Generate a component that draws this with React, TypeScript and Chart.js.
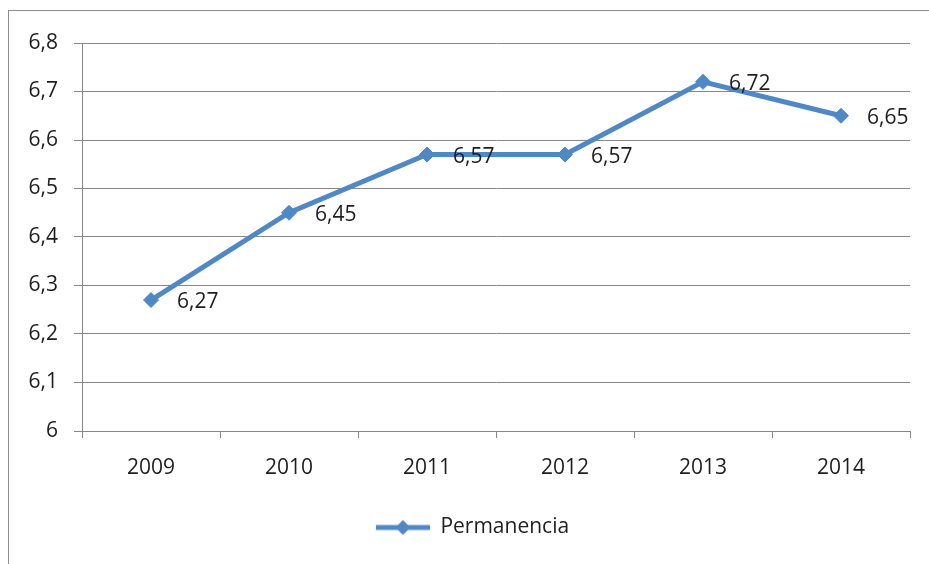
import React, { useEffect, useRef } from "react";
import { Chart, registerables } from "chart.js";

Chart.register(...registerables);

const categories = ["2009", "2010", "2011", "2012", "2013", "2014"];
const permanencia = [6.27, 6.45, 6.57, 6.57, 6.72, 6.65];
const valueLabels = ["6,27", "6,45", "6,57", "6,57", "6,72", "6,65"];
const yTickLabels = ["6", "6,1", "6,2", "6,3", "6,4", "6,5", "6,6", "6,7", "6,8"];
const seriesName = "Permanencia";

const LINE_COLOR = "#5088C6";
const GRID_COLOR = "#878787";
const TEXT_COLOR = "#1e1e1e";
const FONT_FAMILY = "'Open Sans', 'Liberation Sans', sans-serif";
const FONT_SIZE = 21;
const ICON_SHIFT = 26;

function makeLegendIcon(): HTMLCanvasElement {
  const c = document.createElement("canvas");
  c.width = 54 + ICON_SHIFT;
  c.height = 18;
  const g = c.getContext("2d")!;
  g.strokeStyle = LINE_COLOR;
  g.lineWidth = 5;
  g.beginPath();
  g.moveTo(ICON_SHIFT, 9);
  g.lineTo(ICON_SHIFT + 54, 9);
  g.stroke();
  g.fillStyle = LINE_COLOR;
  g.beginPath();
  const cx = ICON_SHIFT + 27;
  g.moveTo(cx, 1.5);
  g.lineTo(cx + 7.5, 9);
  g.lineTo(cx, 16.5);
  g.lineTo(cx - 7.5, 9);
  g.closePath();
  g.fill();
  return c;
}

const dataLabelPlugin = {
  id: "valueLabels",
  afterDatasetsDraw(chart: any) {
    const ctx = chart.ctx;
    const meta = chart.getDatasetMeta(0);
    ctx.save();
    ctx.font = `${FONT_SIZE}px ${FONT_FAMILY}`;
    ctx.fillStyle = TEXT_COLOR;
    ctx.textAlign = "left";
    ctx.textBaseline = "middle";
    meta.data.forEach((pt: any, i: number) => {
      ctx.fillText(valueLabels[i], pt.x + 26, pt.y + 2);
    });
    ctx.restore();
  },
};

export default function App() {
  const canvasRef = useRef<HTMLCanvasElement | null>(null);

  useEffect(() => {
    const canvas = canvasRef.current;
    if (!canvas) return;
    const chart = new Chart(canvas, {
      type: "line",
      data: {
        labels: categories,
        datasets: [
          {
            label: seriesName,
            data: permanencia,
            borderColor: LINE_COLOR,
            backgroundColor: LINE_COLOR,
            borderWidth: 5,
            pointStyle: "rectRot",
            pointRadius: 7.5,
            pointHoverRadius: 7.5,
            pointBackgroundColor: LINE_COLOR,
            pointBorderColor: LINE_COLOR,
            pointBorderWidth: 1,
            tension: 0,
          },
        ],
      },
      options: {
        animation: false,
        responsive: false,
        maintainAspectRatio: false,
        events: [],
        layout: { padding: { top: 32, left: 0, right: 39, bottom: 23 } },
        font: { family: FONT_FAMILY, size: FONT_SIZE },
        scales: {
          x: {
            offset: true,
            grid: {
              offset: true,
              drawOnChartArea: false,
              drawTicks: true,
              tickLength: 7,
              color: GRID_COLOR,
            },
            border: { display: true, color: GRID_COLOR, width: 1 },
            ticks: {
              color: TEXT_COLOR,
              font: { family: FONT_FAMILY, size: FONT_SIZE },
              padding: 17,
              maxRotation: 0,
            },
            afterFit(scale: any) {
              scale.height = 76;
            },
          },
          y: {
            min: 6,
            max: 6.8,
            ticks: {
              stepSize: 0.1,
              color: TEXT_COLOR,
              font: { family: FONT_FAMILY, size: FONT_SIZE },
              padding: 16,
              callback: (_v: any, i: number) => yTickLabels[i],
            },
            grid: {
              color: GRID_COLOR,
              drawTicks: true,
              tickLength: 8,
            },
            border: { display: true, color: GRID_COLOR, width: 1 },
            afterFit(scale: any) {
              scale.width = 73;
            },
          },
        },
        plugins: {
          legend: {
            position: "bottom",
            labels: {
              usePointStyle: true,
              pointStyle: makeLegendIcon() as any,
              pointStyleWidth: 54 + ICON_SHIFT,
              color: TEXT_COLOR,
              font: { family: FONT_FAMILY, size: FONT_SIZE },
              padding: 10,
            },
          },
          tooltip: { enabled: false },
        },
      },
      plugins: [dataLabelPlugin],
    } as any);
    return () => chart.destroy();
  }, []);

  return (
    <div style={{ position: "fixed", inset: 0, overflow: "hidden", background: "#fff" }}>
      <div
        style={{
          position: "absolute",
          left: 8,
          top: 10,
          width: 960,
          height: 600,
          borderTop: "1px solid #8c8c8c",
          borderLeft: "1px solid #8c8c8c",
        }}
      >
        <canvas
          ref={canvasRef}
          width={940}
          height={560}
          style={{ position: "absolute", left: 0, top: 0, width: 940, height: 560 }}
        />
      </div>
    </div>
  );
}
